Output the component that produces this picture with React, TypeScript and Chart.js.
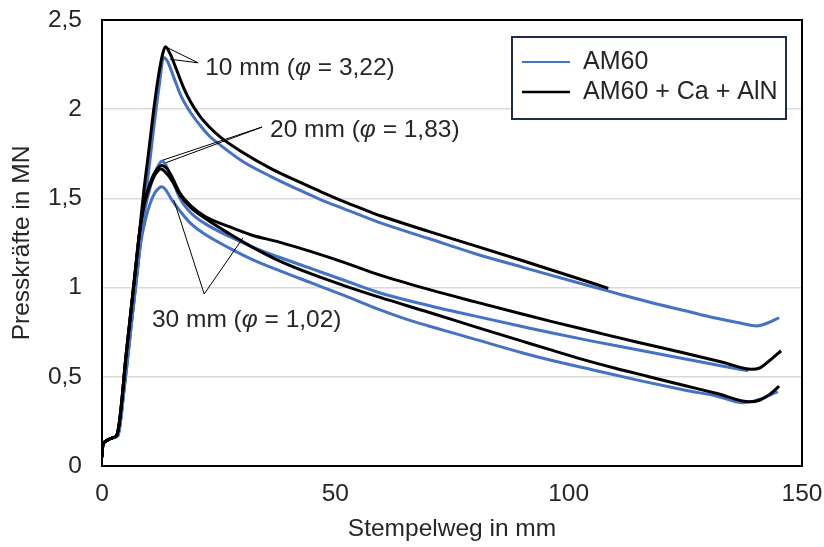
import React, { useEffect, useRef } from "react";
import { Chart, registerables } from "chart.js";

Chart.register(...registerables);

// Press force curves: [Stempelweg mm, Presskraft MN]
const am60_10: [number, number][] = [
  [0, 0.05], [0.15, 0.11], [0.6, 0.135], [1.5, 0.15], [2.5, 0.16], [3.4, 0.17], [4, 0.26], [4.6, 0.4],
  [5.3, 0.56], [6.3, 0.8], [7.3, 1.03], [8.3, 1.27], [9.3, 1.5], [10.3, 1.72], [11.3, 1.94], [12.3, 2.14],
  [13.2, 2.29], [14, 2.27], [15.5, 2.17], [17, 2.07], [19, 1.98], [21, 1.91], [23, 1.85], [25.3, 1.8],
  [30, 1.71], [36, 1.625], [42, 1.55], [46.7, 1.495], [52, 1.44], [57.4, 1.385], [60, 1.36], [70, 1.275],
  [80, 1.19], [90, 1.115], [102.4, 1.024], [110, 0.97], [117.4, 0.918], [125, 0.87], [131.7, 0.828],
  [137, 0.8], [140.3, 0.785], [142.5, 0.8], [145.1, 0.831],
];
const am60_20: [number, number][] = [
  [0, 0.05], [0.15, 0.11], [0.6, 0.135], [1.5, 0.15], [2.5, 0.16], [3.4, 0.17], [4, 0.26], [4.6, 0.4],
  [5.3, 0.56], [6.3, 0.8], [7.3, 1.03], [8.3, 1.27], [9.3, 1.45], [10.3, 1.56], [11.3, 1.64], [12.2, 1.69],
  [12.9, 1.71], [13.6, 1.69], [15, 1.61], [16.7, 1.5], [19, 1.42], [22, 1.36], [27.4, 1.285], [32, 1.23],
  [38, 1.17], [45, 1.105], [52, 1.04], [59.6, 0.97], [70, 0.9], [80, 0.84], [90, 0.782], [96, 0.748],
  [105, 0.7], [115, 0.65], [125, 0.6], [132, 0.565], [138.5, 0.534],
];
const am60_30: [number, number][] = [
  [0, 0.05], [0.15, 0.11], [0.6, 0.135], [1.5, 0.15], [2.5, 0.16], [3.4, 0.17], [4, 0.26], [4.6, 0.4],
  [5.3, 0.56], [6.3, 0.8], [7.3, 1.03], [8.3, 1.25], [9.3, 1.38], [10.3, 1.47], [11.3, 1.53], [12.3, 1.56],
  [12.8, 1.565], [13.6, 1.55], [15, 1.49], [16.7, 1.43], [19, 1.36], [22, 1.3], [27.4, 1.22], [32, 1.16],
  [38, 1.095], [45, 1.025], [52, 0.955], [59.6, 0.875], [65, 0.825], [70, 0.785], [80, 0.71], [90, 0.635],
  [96, 0.594], [105, 0.54], [115, 0.48], [125, 0.425], [132, 0.39], [137.1, 0.355], [140, 0.365],
  [142.5, 0.39], [144.8, 0.417],
];
const caAln_10: [number, number][] = [
  [0, 0.05], [0.15, 0.11], [0.6, 0.135], [1.5, 0.15], [2.5, 0.16], [3.2, 0.175], [3.7, 0.24], [4.3, 0.38],
  [5, 0.58], [6, 0.82], [7, 1.06], [8, 1.3], [9, 1.55], [10, 1.76], [11, 1.98], [12, 2.17], [13, 2.31],
  [13.6, 2.35], [14.6, 2.31], [16, 2.22], [17.5, 2.12], [19, 2.04], [21, 1.96], [23, 1.9], [25.3, 1.845],
  [30, 1.76], [36, 1.67], [42, 1.595], [46.7, 1.54], [52, 1.48], [57.4, 1.425], [60, 1.4], [70, 1.315],
  [80, 1.234], [90, 1.152], [100, 1.068], [108.5, 0.996],
];
const caAln_20: [number, number][] = [
  [0, 0.05], [0.15, 0.11], [0.6, 0.135], [1.5, 0.15], [2.5, 0.16], [3.2, 0.175], [3.7, 0.24], [4.3, 0.38],
  [5, 0.58], [6, 0.82], [7, 1.06], [8, 1.3], [9, 1.47], [10, 1.56], [11, 1.63], [12, 1.67], [12.8, 1.685],
  [13.8, 1.67], [15, 1.62], [16.7, 1.53], [19, 1.46], [22, 1.4], [27.4, 1.34], [32, 1.295], [38, 1.255],
  [45, 1.2], [52, 1.14], [59.6, 1.07], [70, 0.99], [80, 0.92], [90, 0.852], [96, 0.812], [105, 0.755],
  [115, 0.692], [125, 0.632], [133, 0.582], [139.2, 0.542], [141, 0.55], [143, 0.59], [145.5, 0.646],
];
const caAln_30: [number, number][] = [
  [0, 0.05], [0.15, 0.11], [0.6, 0.135], [1.5, 0.15], [2.5, 0.16], [3.2, 0.175], [3.7, 0.24], [4.3, 0.38],
  [5, 0.58], [6, 0.82], [7, 1.06], [8, 1.3], [9, 1.46], [10, 1.55], [11, 1.615], [12, 1.655], [12.7, 1.665],
  [13.5, 1.65], [15, 1.6], [16.7, 1.52], [19, 1.45], [22, 1.39], [27.4, 1.3], [32, 1.23], [38, 1.15],
  [45, 1.075], [52, 1.01], [59.6, 0.945], [70, 0.862], [80, 0.78], [90, 0.7], [96, 0.652], [102, 0.605],
  [110, 0.548], [117, 0.502], [125, 0.45], [132, 0.405], [138.8, 0.36], [141, 0.37], [143, 0.4],
  [145.1, 0.448],
];

const seriesNames = ["AM60", "AM60 + Ca + AlN"];
const seriesColors = ["#4472c4", "#000000"];

const yTickLabels = ["0", "0,5", "1", "1,5", "2", "2,5"];
const xTicks = [0, 50, 100, 150];

// Annotation texts, their anchor, and leader line targets (data units)
const noteHeads = ["10 mm (", "20 mm (", "30 mm ("];
const notePhi = ["3,22", "1,83", "1,02"];
const notePos: [number, number][] = [[22.1, 2.231], [36, 1.883], [10.7, 0.818]];
const leaderStart: [number, number][] = [[20.6, 2.26], [34.3, 1.9], [21.9, 0.964]];
const leaderEnds: [number, number][][] = [
  [[13.6, 2.35], [14.6, 2.28]],
  [[13.1, 1.715], [13.7, 1.7]],
  [[15.4, 1.49], [30.2, 1.278]],
];

const FONT = '"Liberation Sans", Arial, sans-serif';
const TEXT = "#262626";
const FS = 24.5;

const toPoints = (s: [number, number][]) => s.map(([x, y]) => ({ x, y }));

const overlay = {
  id: "overlay",
  afterDatasetsDraw(chart: any) {
    const { ctx, chartArea: a, scales } = chart;
    const sx = scales.x;
    const sy = scales.y;
    ctx.save();

    // leader lines
    ctx.strokeStyle = "#000";
    ctx.lineWidth = 1;
    leaderStart.forEach((p, i) => {
      leaderEnds[i].forEach((q) => {
        ctx.beginPath();
        ctx.moveTo(sx.getPixelForValue(p[0]), sy.getPixelForValue(p[1]));
        ctx.lineTo(sx.getPixelForValue(q[0]), sy.getPixelForValue(q[1]));
        ctx.stroke();
      });
    });

    // annotation texts with italic phi
    ctx.fillStyle = TEXT;
    ctx.textBaseline = "middle";
    ctx.textAlign = "left";
    notePos.forEach((p, i) => {
      let px = sx.getPixelForValue(p[0]);
      const py = sy.getPixelForValue(p[1]);
      ctx.font = `${FS}px ${FONT}`;
      ctx.fillText(noteHeads[i], px, py);
      px += ctx.measureText(noteHeads[i]).width;
      ctx.font = `italic ${FS}px ${FONT}`;
      ctx.fillText("\u03c6", px, py);
      px += ctx.measureText("\u03c6").width;
      ctx.font = `${FS}px ${FONT}`;
      ctx.fillText(` = ${notePhi[i]})`, px, py);
    });

    // plot frame
    ctx.strokeStyle = "#000";
    ctx.lineWidth = 2;
    ctx.strokeRect(a.left, a.top, a.right - a.left, a.bottom - a.top);

    // legend box
    const bx = a.right - 290;
    const by = a.top + 17;
    const bw = 274;
    const bh = 82;
    ctx.fillStyle = "#fff";
    ctx.fillRect(bx, by, bw, bh);
    ctx.strokeStyle = "#1f2b4d";
    ctx.lineWidth = 2;
    ctx.strokeRect(bx, by, bw, bh);
    ctx.font = `25px ${FONT}`;
    seriesNames.forEach((name, i) => {
      const ly = by + 25 + i * 30;
      ctx.strokeStyle = seriesColors[i];
      ctx.lineWidth = i === 0 ? 2 : 2.5;
      ctx.beginPath();
      ctx.moveTo(bx + 10, ly);
      ctx.lineTo(bx + 58, ly);
      ctx.stroke();
      ctx.fillStyle = TEXT;
      ctx.fillText(name, bx + 71, ly);
    });

    ctx.restore();
  },
};

export default function App() {
  const ref = useRef<HTMLCanvasElement | null>(null);

  useEffect(() => {
    if (!ref.current) return;
    const line = (data: [number, number][], color: string) => ({
      data: toPoints(data),
      borderColor: color,
      borderWidth: 3,
      pointRadius: 0,
      showLine: true,
      fill: false,
      cubicInterpolationMode: "monotone" as const,
    });
    const chart = new Chart(ref.current, {
      type: "scatter",
      data: {
        datasets: [
          { label: seriesNames[1], ...line(caAln_10, seriesColors[1]) },
          { label: seriesNames[1], ...line(caAln_20, seriesColors[1]) },
          { label: seriesNames[1], ...line(caAln_30, seriesColors[1]) },
          { label: seriesNames[0], ...line(am60_10, seriesColors[0]) },
          { label: seriesNames[0], ...line(am60_20, seriesColors[0]) },
          { label: seriesNames[0], ...line(am60_30, seriesColors[0]) },
        ],
      },
      options: {
        responsive: false,
        animation: false,
        layout: { padding: { left: 0, right: 22, top: 20, bottom: 0 } },
        plugins: { legend: { display: false }, tooltip: { enabled: false } },
        scales: {
          x: {
            type: "linear",
            min: 0,
            max: 150,
            afterBuildTicks: (s: any) => {
              s.ticks = xTicks.map((v) => ({ value: v }));
            },
            ticks: { padding: 14, color: TEXT, font: { family: FONT, size: FS } },
            grid: { display: false, drawTicks: false },
            border: { display: false },
            title: {
              display: true,
              text: "Stempelweg in mm",
              color: TEXT,
              font: { family: FONT, size: FS },
              padding: { top: 0, bottom: 3 },
            },
            afterFit: (s: any) => {
              s.height = 81;
              s.paddingLeft = 0;
              s.paddingRight = 0;
            },
          },
          y: {
            type: "linear",
            min: 0,
            max: 2.5,
            ticks: {
              stepSize: 0.5,
              padding: 20,
              color: TEXT,
              font: { family: FONT, size: FS },
              callback: (_v: any, i: number) => yTickLabels[i],
            },
            grid: { color: "#d9d9d9", lineWidth: 1.5, drawTicks: false },
            border: { display: false },
            title: {
              display: true,
              text: "Presskräfte in MN",
              color: TEXT,
              font: { family: FONT, size: FS },
              padding: { top: 8, bottom: 0 },
            },
            afterFit: (s: any) => {
              s.width = 102;
              s.paddingTop = 0;
              s.paddingBottom = 0;
            },
          },
        },
      },
      plugins: [overlay],
    });
    return () => chart.destroy();
  }, []);

  return (
    <div style={{ position: "fixed", left: 0, top: 0, width: 824, height: 547, background: "#fff" }}>
      <canvas ref={ref} width={824} height={547} style={{ display: "block" }} />
    </div>
  );
}
